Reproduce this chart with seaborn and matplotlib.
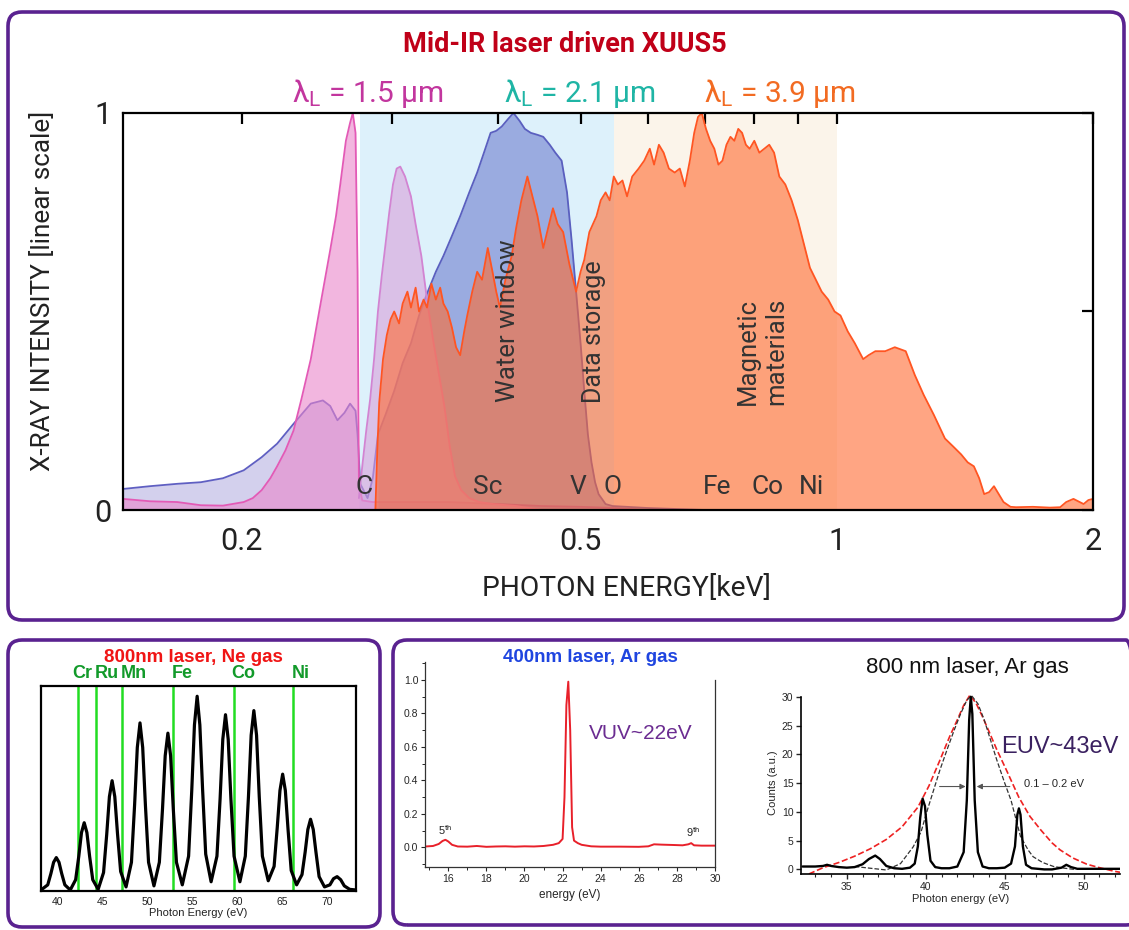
import numpy as np
import pandas as pd
import seaborn as sns
import matplotlib.pyplot as plt
from matplotlib import font_manager
from matplotlib.patches import FancyBboxPatch
from matplotlib.ticker import FixedLocator, NullFormatter, MultipleLocator, FormatStrFormatter

W, H = 1129, 930

# ---------------- top panel: photon energy [keV] vs normalised intensity ----------------
e_low = [0.145, 0.156, 0.168, 0.179, 0.190, 0.201, 0.211, 0.220, 0.230, 0.241,
         0.249, 0.254, 0.259, 0.264, 0.268, 0.272, 0.2735, 0.2755, 0.281, 0.285, 0.289]
i_low = [0.053, 0.060, 0.066, 0.070, 0.080, 0.100, 0.133, 0.167, 0.217, 0.268,
         0.276, 0.262, 0.226, 0.245, 0.268, 0.250, 0.190, 0.066, 0.030, 0.080, 0.190]

# 2.1 um driver (water window)
e_21 = [0.289, 0.295, 0.302, 0.309, 0.316, 0.323, 0.330, 0.338, 0.345, 0.353,
        0.361, 0.370, 0.378, 0.385, 0.392, 0.398, 0.404, 0.411, 0.417, 0.424,
        0.430, 0.437, 0.445, 0.452, 0.460, 0.467, 0.475, 0.482, 0.488, 0.494,
        0.500, 0.505, 0.510, 0.515, 0.520, 0.525, 0.535, 0.545, 0.600, 0.700]
i_21 = [0.190, 0.240, 0.300, 0.370, 0.420, 0.490, 0.545, 0.600, 0.640, 0.690,
        0.740, 0.800, 0.850, 0.900, 0.950, 0.955, 0.966, 0.985, 1.000, 0.980,
        0.960, 0.950, 0.945, 0.940, 0.920, 0.900, 0.880, 0.800, 0.680, 0.550,
        0.420, 0.300, 0.190, 0.120, 0.070, 0.040, 0.015, 0.010, 0.005, 0.0]

# 1.5 um driver, peak just below the carbon edge
e_15 = [0.145, 0.156, 0.168, 0.179, 0.190, 0.201, 0.206, 0.211, 0.216, 0.220,
        0.225, 0.230, 0.235, 0.241, 0.247, 0.254, 0.258, 0.261, 0.265, 0.268,
        0.270, 0.272, 0.2735, 0.2745, 0.277, 0.285, 0.30, 0.35, 0.40, 0.45,
        0.50, 0.55, 0.60]
i_15 = [0.028, 0.022, 0.020, 0.012, 0.011, 0.020, 0.030, 0.050, 0.080, 0.110,
        0.150, 0.200, 0.280, 0.380, 0.510, 0.655, 0.740, 0.820, 0.930, 0.975,
        1.000, 0.950, 0.600, 0.066, 0.024, 0.020, 0.020, 0.020, 0.015, 0.010,
        0.008, 0.005, 0.0]

# 1.5 um driver, second peak above the carbon edge
e_15b = [0.2745, 0.277, 0.280, 0.283, 0.286, 0.289, 0.292, 0.295, 0.298, 0.301,
         0.304, 0.307, 0.311, 0.316, 0.320, 0.325, 0.330, 0.336, 0.341, 0.346,
         0.351, 0.356, 0.362, 0.370, 0.380, 0.395, 0.420, 0.450]
i_15b = [0.03, 0.11, 0.20, 0.28, 0.38, 0.50, 0.59, 0.67, 0.75, 0.82,
         0.86, 0.865, 0.84, 0.79, 0.72, 0.64, 0.53, 0.42, 0.34, 0.26,
         0.16, 0.085, 0.05, 0.03, 0.02, 0.015, 0.01, 0.0]

# 3.9 um driver
e_39 = [0.287, 0.2885, 0.290, 0.293, 0.296, 0.299, 0.302, 0.306, 0.309, 0.313,
        0.316, 0.320, 0.323, 0.327, 0.330, 0.334, 0.338, 0.342, 0.345, 0.349,
        0.353, 0.357, 0.361, 0.365, 0.368, 0.373, 0.378, 0.383, 0.389, 0.394,
        0.398, 0.402, 0.408, 0.415, 0.420, 0.426, 0.433, 0.439, 0.445, 0.452,
        0.458, 0.464, 0.470, 0.477, 0.485, 0.494, 0.500, 0.505, 0.512, 0.522,
        0.528, 0.535, 0.541, 0.547, 0.553, 0.560, 0.567, 0.575, 0.585, 0.594,
        0.603, 0.610, 0.618, 0.626, 0.635, 0.645, 0.654, 0.663, 0.672, 0.680,
        0.687, 0.694, 0.702, 0.710, 0.718, 0.726, 0.734, 0.742, 0.750, 0.758,
        0.766, 0.774, 0.782, 0.790, 0.800, 0.811, 0.822, 0.833, 0.844, 0.856,
        0.870, 0.885, 0.900, 0.915, 0.930, 0.945, 0.960, 0.977, 0.994, 1.010,
        1.030, 1.050, 1.074, 1.090, 1.110, 1.140, 1.170, 1.205, 1.235, 1.265,
        1.300, 1.340, 1.370, 1.400, 1.425, 1.449, 1.470, 1.490, 1.510, 1.530,
        1.550, 1.570, 1.600, 1.624, 1.700, 1.780, 1.830, 1.860, 1.897, 1.930,
        1.950, 1.975, 2.000]
i_39 = [0.0, 0.15, 0.27, 0.38, 0.44, 0.48, 0.50, 0.47, 0.52, 0.55,
        0.51, 0.56, 0.50, 0.53, 0.51, 0.57, 0.53, 0.56, 0.52, 0.50,
        0.46, 0.41, 0.39, 0.45, 0.49, 0.55, 0.60, 0.58, 0.66, 0.60,
        0.55, 0.51, 0.58, 0.64, 0.71, 0.78, 0.84, 0.79, 0.74, 0.66,
        0.71, 0.76, 0.72, 0.70, 0.62, 0.55, 0.60, 0.63, 0.70, 0.74,
        0.78, 0.80, 0.78, 0.84, 0.82, 0.83, 0.79, 0.84, 0.86, 0.88,
        0.91, 0.87, 0.92, 0.90, 0.86, 0.85, 0.86, 0.815, 0.88, 0.95,
        0.99, 1.0, 0.96, 0.93, 0.91, 0.87, 0.88, 0.92, 0.94, 0.93,
        0.96, 0.95, 0.92, 0.91, 0.93, 0.90, 0.91, 0.92, 0.90, 0.84,
        0.82, 0.78, 0.73, 0.67, 0.61, 0.58, 0.55, 0.53, 0.50, 0.49,
        0.45, 0.42, 0.38, 0.39, 0.40, 0.40, 0.41, 0.40, 0.34, 0.29,
        0.24, 0.18, 0.16, 0.14, 0.12, 0.11, 0.08, 0.04, 0.045, 0.06,
        0.04, 0.02, 0.008, 0.007, 0.008, 0.006, 0.007, 0.02, 0.028, 0.02,
        0.015, 0.025, 0.028]

elem_names = ['C', 'Sc', 'V', 'O', 'Fe', 'Co', 'Ni']
elem_kev = [0.278, 0.389, 0.497, 0.545, 0.724, 0.828, 0.933]
water_window = (0.275, 0.547)
magnetic = (0.547, 1.0)

# ---------------- bottom left: 800 nm laser, Ne gas ----------------
ne_ev = [38.2, 38.95, 39.3, 39.6, 39.9, 40.2, 40.5, 40.85, 41.45,
         42.05, 42.4, 42.7, 43.0, 43.3, 43.6, 43.95, 44.55,
         45.15, 45.5, 45.8, 46.1, 46.4, 46.7, 47.05, 47.65,
         48.25, 48.6, 48.9, 49.2, 49.5, 49.8, 50.15, 50.75,
         51.35, 51.7, 52.0, 52.3, 52.6, 52.9, 53.25, 53.9,
         54.6, 54.95, 55.25, 55.55, 55.85, 56.15, 56.5, 57.1,
         57.75, 58.1, 58.4, 58.7, 59.0, 59.3, 59.65, 60.3,
         60.9, 61.25, 61.55, 61.85, 62.15, 62.45, 62.8, 63.45,
         64.1, 64.45, 64.75, 65.05, 65.35, 65.65, 66.0, 66.6,
         67.2, 67.55, 67.85, 68.15, 68.45, 68.75, 69.1, 69.7,
         70.3, 70.7, 71.1, 71.5, 71.9, 72.5, 73.2]
ne_sig = [0.005, 0.03, 0.085, 0.14, 0.163, 0.14, 0.085, 0.03, 0.005,
          0.055, 0.17, 0.285, 0.333, 0.285, 0.17, 0.055, 0.008,
          0.09, 0.275, 0.46, 0.538, 0.46, 0.28, 0.095, 0.02,
          0.14, 0.42, 0.70, 0.82, 0.70, 0.42, 0.14, 0.025,
          0.14, 0.40, 0.66, 0.77, 0.66, 0.40, 0.14, 0.03,
          0.17, 0.49, 0.81, 0.95, 0.81, 0.50, 0.18, 0.045,
          0.17, 0.45, 0.74, 0.86, 0.74, 0.45, 0.17, 0.045,
          0.17, 0.46, 0.76, 0.88, 0.76, 0.46, 0.17, 0.05,
          0.12, 0.31, 0.49, 0.57, 0.49, 0.30, 0.10, 0.03,
          0.08, 0.19, 0.30, 0.35, 0.30, 0.19, 0.07, 0.02,
          0.03, 0.06, 0.07, 0.055, 0.025, 0.008, 0.005]
edge_names = ['Cr', 'Ru', 'Mn', 'Fe', 'Co', 'Ni']
edge_ev = [42.3, 44.3, 47.2, 52.9, 59.6, 66.2]
edge_label_ev = [42.8, 45.5, 48.5, 53.9, 60.7, 67.1]

# ---------------- bottom middle: 400 nm laser, Ar gas ----------------
ar4_ev = [14.8, 15.2, 15.5, 15.7, 15.85, 16.0, 16.2, 16.5, 17.0, 17.5,
          18.0, 18.5, 19.0, 19.5, 20.0, 20.5, 21.0, 21.5, 21.8, 22.0,
          22.1, 22.2, 22.3, 22.4, 22.5, 22.6, 22.8, 23.0, 23.5, 24.0,
          25.0, 26.0, 26.5, 26.8, 27.2, 27.8, 28.3, 28.6, 28.75, 28.9,
          29.3, 30.0]
ar4_sig = [0.005, 0.008, 0.02, 0.038, 0.045, 0.035, 0.015, 0.005, 0.004, 0.008,
           0.003, 0.005, 0.006, 0.004, 0.006, 0.005, 0.008, 0.015, 0.025, 0.05,
           0.30, 0.85, 0.99, 0.70, 0.12, 0.04, 0.025, 0.015, 0.006, 0.004,
           0.004, 0.003, 0.006, 0.018, 0.016, 0.014, 0.012, 0.018, 0.025, 0.012,
           0.01, 0.01]

# ---------------- bottom right: 800 nm laser, Ar gas ----------------
ar8_ev = [32.2, 33.0, 33.5, 33.75, 34.0, 34.5, 35.0, 35.5, 36.0, 36.4,
          36.8, 37.1, 37.5, 38.0, 38.5, 39.0, 39.3, 39.5, 39.65, 39.8,
          39.95, 40.1, 40.3, 40.6, 41.0, 41.5, 42.0, 42.4, 42.6, 42.75,
          42.85, 42.95, 43.1, 43.3, 43.6, 44.0, 44.5, 45.0, 45.4, 45.65,
          45.8, 45.9, 46.0, 46.15, 46.35, 46.7, 47.5, 48.0, 48.6, 48.9,
          49.2, 49.6, 50.5, 51.5, 52.3]
ar8_counts = [0.5, 0.5, 0.6, 0.8, 0.6, 0.4, 0.3, 0.4, 0.9, 1.8,
              2.4, 1.8, 0.6, 0.2, 0.1, 0.3, 1.0, 4.0, 9.0, 12.3,
              11.0, 6.0, 1.5, 0.4, 0.2, 0.2, 0.5, 3.0, 12.0, 26.0,
              30.0, 27.0, 12.0, 3.0, 0.5, 0.2, 0.2, 0.3, 1.0, 4.0,
              9.5, 10.6, 9.5, 4.0, 0.8, 0.2, 0.0, 0.0, 0.3, 0.8,
              0.4, 0.1, 0.1, 0.1, 0.1]
env_ev = [32.6, 33.5, 34.5, 35.5, 36.5, 37.5, 38.5, 39.5, 40.2, 40.9,
          41.5, 42.0, 42.4, 42.8, 43.2, 43.6, 44.0, 44.5, 45.1, 45.9,
          46.6, 47.3, 48.0, 48.5, 49.3, 50.2, 51.0, 51.9, 52.3]
env_counts = [-0.8, 0.3, 1.2, 2.3, 3.6, 5.2, 7.4, 10.8, 14.5, 19.0,
              23.0, 26.0, 28.5, 30.3, 28.8, 26.5, 24.0, 20.8, 17.3, 12.5,
              9.2, 6.8, 4.6, 3.4, 2.0, 0.9, 0.3, -0.3, -0.5]
fit_ev = [35.5, 36.5, 37.5, 38.4, 39.2, 39.7, 40.1, 40.5, 40.9, 41.4,
          41.8, 42.2, 42.6, 42.9, 43.3, 43.7, 44.1, 44.5, 45.0, 45.4,
          46.0, 46.5, 46.8, 47.4, 48.1, 48.8, 49.4]
fit_counts = [0.5, 0.2, -0.1, 1.0, 3.9, 6.5, 10.3, 13.8, 17.3, 21.2,
              24.2, 27.0, 29.4, 30.2, 28.8, 26.0, 22.5, 19.0, 15.0, 12.0,
              5.7, 3.3, 2.2, 1.2, 0.5, 0.2, 0.0]

# ---------------- styling ----------------
sns.set_style("white")
names = {f.name for f in font_manager.fontManager.ttflist}
narrow = 'Liberation Sans Narrow' if 'Liberation Sans Narrow' in names else 'Roboto'
plt.rcParams['font.family'] = ['Liberation Sans', 'DejaVu Sans']
plt.rcParams['mathtext.fontset'] = 'custom'
plt.rcParams['mathtext.rm'] = narrow
plt.rcParams['mathtext.it'] = narrow + ':italic'

PURPLE = '#5a2290'


def rect(x0, y0, x1, y1):
    return [x0 / W, 1 - y1 / H, (x1 - x0) / W, (y1 - y0) / H]


def fpos(x, y):
    return x / W, 1 - y / H


fig = plt.figure(figsize=(W / 100, H / 100), dpi=100)


def panel_box(x0, y0, x1, y1):
    box = FancyBboxPatch((x0 / 100, (H - y1) / 100), (x1 - x0) / 100, (y1 - y0) / 100,
                         boxstyle="round,pad=0,rounding_size=0.14",
                         transform=fig.dpi_scale_trans, fill=False,
                         edgecolor=PURPLE, linewidth=2.6)
    fig.add_artist(box)


panel_box(8, 12, 1124, 620)
panel_box(8, 640, 380, 927)
panel_box(393, 640, 1140, 925)

# ================= top panel =================
ax = fig.add_axes(rect(123, 113, 1093, 510))
ax.set_xscale('log')
ax.axvspan(*water_window, color='#ddf1fb', lw=0, zorder=0)
ax.axvspan(*magnetic, color='#fbf4ea', lw=0, zorder=0)

series = [
    (e_low, i_low, '#b7b1e2', 0.6, '#5f5fc2'),
    (e_15, i_15, '#ea86cb', 0.6, '#e35ab6'),
    (e_21, i_21, '#6373ca', 0.55, '#5a5fbf'),
    (e_15b, i_15b, '#d9a0da', 0.6, '#d284d2'),
    (e_39, i_39, '#ff6a30', 0.6, '#ff5522'),
]
for k, (xs, ys, fc, al, lc) in enumerate(series):
    ax.fill_between(xs, 0, ys, color=fc, alpha=al, lw=0, zorder=2 + k)
    sns.lineplot(x=xs, y=ys, ax=ax, color=lc, lw=1.3, estimator=None, sort=False,
                 legend=False, zorder=2 + k)

ax.set_xlim(0.145, 2.0)
ax.set_ylim(0, 1)
ax.set_xticks([0.2, 0.5, 1, 2], labels=['0.2', '0.5', '1', '2'])
ax.xaxis.set_minor_locator(FixedLocator([0.3, 0.4, 0.6, 0.7, 0.8, 0.9]))
ax.xaxis.set_minor_formatter(NullFormatter())
ax.set_yticks([0, 0.5, 1], labels=['0', '', '1'])
ax.tick_params(which='both', direction='in', top=True, right=True, length=8, width=1.6,
               labelsize=22, labelfontfamily=narrow, color='black', labelcolor='#222222')
ax.tick_params(axis='x', pad=12)
ax.tick_params(axis='y', pad=8)
for s in ax.spines.values():
    s.set_linewidth(1.6)
    s.set_color('black')
    s.set_zorder(20)
ax.set_xlabel('')
ax.set_ylabel('')

for name, ev in zip(elem_names, elem_kev):
    ax.text(ev, 0.057, name, ha='center', va='center', fontsize=19, family=narrow,
            color='#333333', zorder=15)
ax.text(0.411, 0.476, 'Water window', rotation=90, ha='center', va='center',
        fontsize=18.5, family=narrow, color='#333333', zorder=15)
ax.text(0.518, 0.45, 'Data storage', rotation=90, ha='center', va='center',
        fontsize=18, family=narrow, color='#333333', zorder=15)
ax.text(0.817, 0.40, 'Magnetic\nmaterials', rotation=90, ha='center', va='center',
        fontsize=18.5, family=narrow, color='#333333', linespacing=1.25, zorder=15)

fig.text(*fpos(565, 45), 'Mid-IR laser driven XUUS5', ha='center', va='center',
         fontsize=19.5, fontweight='bold', family=narrow, color='#c00018')
fig.text(*fpos(368, 93), 'λ$_{\\rm L}$ = 1.5 μm', ha='center', va='center',
         fontsize=21.5, family=narrow, color='#c2369e')
fig.text(*fpos(580, 93), 'λ$_{\\rm L}$ = 2.1 μm', ha='center', va='center',
         fontsize=21.5, family=narrow, color='#1fb5a5')
fig.text(*fpos(780, 93), 'λ$_{\\rm L}$ = 3.9 μm', ha='center', va='center',
         fontsize=21.5, family=narrow, color='#f26b22')
fig.text(*fpos(43, 291), 'X-RAY INTENSITY [linear scale]', rotation=90, ha='center',
         va='center', fontsize=18.8, family=narrow, color='#222222')
fig.text(*fpos(626, 589), 'PHOTON ENERGY[keV]', ha='center', va='center',
         fontsize=20.3, family=narrow, color='#222222')

# ================= bottom left =================
axl = fig.add_axes(rect(41, 686, 356, 891))
for ev in edge_ev:
    axl.axvline(ev, color='#22dd22', lw=1.8, zorder=1)
sns.lineplot(x=ne_ev, y=ne_sig, ax=axl, color='black', lw=2.3, estimator=None,
             sort=False, legend=False, zorder=3)
axl.set_xlim(38.2, 73.2)
axl.set_ylim(0, 1)
axl.set_yticks([])
axl.set_xticks([40, 45, 50, 55, 60, 65, 70])
axl.tick_params(axis='x', length=0, labelsize=7.5, pad=4, colors='#222222')
for s in axl.spines.values():
    s.set_linewidth(1.6)
    s.set_color('black')
axl.set_xlabel('Photon Energy (eV)', fontsize=8, labelpad=1, color='#222222')
axl.set_ylabel('')
for name, ev in zip(edge_names, edge_label_ev):
    axl.text(ev, 1.02, name, transform=axl.get_xaxis_transform(), ha='center',
             va='bottom', fontsize=13, fontweight='bold', color='#129a2a')
fig.text(*fpos(193, 657), '800nm laser, Ne gas', ha='center', va='center',
         fontsize=13.5, fontweight='bold', color='#f01515')

# ================= bottom middle =================
axm = fig.add_axes(rect(425.4, 661.6, 715, 867.4))
sns.lineplot(x=ar4_ev, y=ar4_sig, ax=axm, color='#e8202a', lw=1.4, estimator=None,
             sort=False, legend=False)
axm.set_xlim(14.8, 30)
axm.set_ylim(-0.12, 1.11)
axm.set_xticks(np.arange(16, 31, 2))
axm.xaxis.set_minor_locator(MultipleLocator(1))
axm.set_yticks(np.arange(0, 1.01, 0.2))
axm.yaxis.set_minor_locator(MultipleLocator(0.1))
axm.yaxis.set_major_formatter(FormatStrFormatter('%.1f'))
axm.tick_params(which='major', direction='out', length=3, width=0.8, labelsize=7.5,
                bottom=True, left=True, pad=2)
axm.tick_params(which='minor', direction='out', length=2, width=0.7, bottom=True, left=True)
axm.spines['top'].set_visible(False)
axm.spines['right'].set_bounds(-0.12, 1.0)
for s in axm.spines.values():
    s.set_linewidth(0.9)
    s.set_color('#333333')
axm.set_xlabel('energy (eV)', fontsize=8.5, labelpad=3)
axm.set_ylabel('')
axm.text(15.85, 0.1, '5$^{\\rm th}$', ha='center', va='center', fontsize=8)
axm.text(28.85, 0.09, '9$^{\\rm th}$', ha='center', va='center', fontsize=8)
axm.text(26.1, 0.68, 'VUV~22eV', ha='center', va='center', fontsize=15, color='#6b2c91')
fig.text(*fpos(590, 657), '400nm laser, Ar gas', ha='center', va='center',
         fontsize=13.5, fontweight='bold', color='#1f45e0')

# ================= bottom right =================
axr = fig.add_axes(rect(801, 691, 1120, 874))
sns.lineplot(x=env_ev, y=env_counts, ax=axr, color='#ee2222', lw=1.2, linestyle='--',
             estimator=None, sort=False, legend=False)
sns.lineplot(x=fit_ev, y=fit_counts, ax=axr, color='#333333', lw=0.9, linestyle='--',
             estimator=None, sort=False, legend=False)
sns.lineplot(x=ar8_ev, y=ar8_counts, ax=axr, color='black', lw=1.7, estimator=None,
             sort=False, legend=False)
axr.set_xlim(32.1, 52.3)
axr.set_ylim(-0.8, 31)
axr.set_xticks([35, 40, 45, 50])
axr.xaxis.set_minor_locator(MultipleLocator(1))
axr.set_yticks(np.arange(0, 31, 5))
axr.tick_params(which='major', direction='out', length=3.5, width=1.0, labelsize=7.5,
                bottom=True, left=True, pad=2)
axr.tick_params(which='minor', direction='out', length=2.5, width=0.8, bottom=True)
axr.spines['top'].set_visible(False)
axr.spines['right'].set_visible(False)
axr.spines['left'].set_bounds(-0.8, 30)
for s in axr.spines.values():
    s.set_linewidth(1.2)
    s.set_color('black')
axr.set_xlabel('Photon energy (eV)', fontsize=8, labelpad=2)
axr.set_ylabel('Counts (a.u.)', fontsize=8, labelpad=3)
axr.annotate('', xy=(42.7, 14.4), xytext=(40.7, 14.4),
             arrowprops=dict(arrowstyle='-|>', color='#555555', lw=0.8, mutation_scale=8))
axr.annotate('', xy=(43.05, 14.4), xytext=(45.5, 14.4),
             arrowprops=dict(arrowstyle='-|>', color='#555555', lw=0.8, mutation_scale=8))
axr.text(48.1, 14.8, '0.1 – 0.2 eV', ha='center', va='center', fontsize=8)
axr.text(48.5, 21.3, 'EUV~43eV', ha='center', va='center', fontsize=17, color='#3a2060')
fig.text(*fpos(967, 667), '800 nm laser, Ar gas', ha='center', va='center',
         fontsize=16, color='#111111')

fig.savefig('out.png', dpi=100)
